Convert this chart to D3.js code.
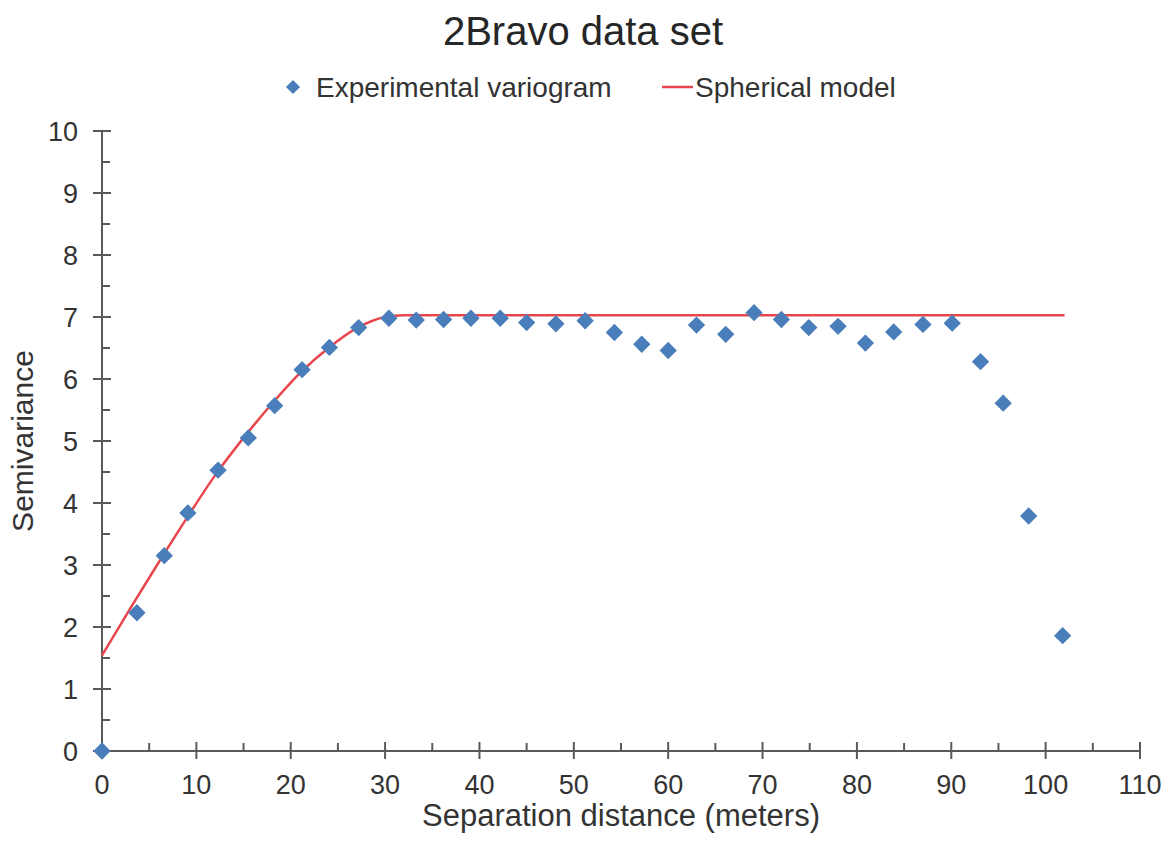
<!DOCTYPE html>
<html>
<head>
<meta charset="utf-8">
<script src="https://cdnjs.cloudflare.com/ajax/libs/d3/7.8.5/d3.min.js"></script>
<style>
    body { margin: 0; background: #fff; }
    text { font-family: "Liberation Sans", Arial, sans-serif; }
</style>
</head>
<body>
<svg id="chart" width="1172" height="842"></svg>
<script>
// experimental variogram (lag distance, semivariance)
var lagDistances = [0, 3.7, 6.6, 9.1, 12.3, 15.5, 18.3, 21.2, 24.1, 27.2, 30.4, 33.3, 36.2, 39.1,
    42.2, 45.0, 48.1, 51.2, 54.3, 57.2, 60.0, 63.0, 66.1, 69.1, 72.0, 74.9, 78.0, 80.9,
    83.9, 87.0, 90.1, 93.1, 95.5, 98.2, 101.8];
var semivariances = [0, 2.23, 3.15, 3.84, 4.53, 5.05, 5.57, 6.15, 6.51, 6.83, 6.98, 6.95, 6.96, 6.98,
    6.98, 6.91, 6.89, 6.94, 6.75, 6.56, 6.46, 6.87, 6.72, 7.07, 6.96, 6.83, 6.85, 6.58,
    6.76, 6.88, 6.90, 6.28, 5.61, 3.79, 1.86];

// spherical model
var modelDistances = [0, 3, 6, 9, 12, 15, 18, 21, 24, 27, 30, 32, 102];
var modelValues = [1.54, 2.3, 3.04, 3.76, 4.45, 5.05, 5.6, 6.1, 6.5, 6.82, 7.0, 7.03, 7.03];

var xTicks = [0, 10, 20, 30, 40, 50, 60, 70, 80, 90, 100, 110];
var xMinorTicks = [5, 15, 25, 35, 45, 55, 65, 75, 85, 95, 105];
var yTicks = [0, 1, 2, 3, 4, 5, 6, 7, 8, 9, 10];
var yMinorTicks = [0.5, 1.5, 2.5, 3.5, 4.5, 5.5, 6.5, 7.5, 8.5, 9.5];

var chartTitle = "2Bravo data set";
var seriesNames = ["Experimental variogram", "Spherical model"];
var xTitle = "Separation distance (meters)";
var yTitle = "Semivariance";

var pointColor = "#4a7ebb";
var lineColor = "#e8464c";
var axisColor = "#595959";
var textColor = "#333333";

var margin = {top: 131, right: 32, bottom: 91, left: 102};
var width = 1172 - margin.left - margin.right;
var height = 842 - margin.top - margin.bottom;

var svg = d3.select("#chart");
var g = svg.append("g").attr("transform", "translate(" + margin.left + "," + margin.top + ")");

var x = d3.scaleLinear().domain([0, 110]).range([0, width]);
var y = d3.scaleLinear().domain([0, 10]).range([height, 0]);

var diamond = d3.symbol().type(d3.symbolSquare).size(150);

//////// axes
var drawAxes = function() {
    // y axis
    g.append("line")
        .attr("x1", 0).attr("x2", 0)
        .attr("y1", y(0)).attr("y2", y(10))
        .attr("stroke", axisColor).attr("stroke-width", 2);

    g.selectAll(".y-major").data(yTicks).enter().append("line")
        .attr("x1", -9).attr("x2", 9)
        .attr("y1", function(d) { return y(d); })
        .attr("y2", function(d) { return y(d); })
        .attr("stroke", axisColor).attr("stroke-width", 2);

    g.selectAll(".y-minor").data(yMinorTicks).enter().append("line")
        .attr("x1", 0).attr("x2", 8)
        .attr("y1", function(d) { return y(d); })
        .attr("y2", function(d) { return y(d); })
        .attr("stroke", axisColor).attr("stroke-width", 2);

    g.selectAll(".y-label").data(yTicks).enter().append("text")
        .attr("x", -24)
        .attr("y", function(d) { return y(d); })
        .attr("dy", "0.36em")
        .attr("text-anchor", "end")
        .attr("font-size", 27)
        .attr("fill", textColor)
        .text(function(d) { return d; });

    // x axis
    g.append("line")
        .attr("x1", x(0)).attr("x2", x(110))
        .attr("y1", y(0)).attr("y2", y(0))
        .attr("stroke", axisColor).attr("stroke-width", 2);

    g.selectAll(".x-major").data(xTicks).enter().append("line")
        .attr("x1", function(d) { return x(d); })
        .attr("x2", function(d) { return x(d); })
        .attr("y1", height - 9).attr("y2", height + 8)
        .attr("stroke", axisColor).attr("stroke-width", 2);

    g.selectAll(".x-minor").data(xMinorTicks).enter().append("line")
        .attr("x1", function(d) { return x(d); })
        .attr("x2", function(d) { return x(d); })
        .attr("y1", height - 8).attr("y2", height)
        .attr("stroke", axisColor).attr("stroke-width", 2);

    g.selectAll(".x-label").data(xTicks).enter().append("text")
        .attr("x", function(d) { return x(d); })
        .attr("y", height + 43)
        .attr("text-anchor", "middle")
        .attr("font-size", 27)
        .attr("fill", textColor)
        .text(function(d) { return d; });

    // titles
    svg.append("text")
        .attr("x", margin.left + width / 2)
        .attr("y", 826)
        .attr("text-anchor", "middle")
        .attr("font-size", 31)
        .attr("fill", textColor)
        .text(xTitle);

    svg.append("text")
        .attr("transform", "translate(33," + (margin.top + height / 2) + ") rotate(-90)")
        .attr("text-anchor", "middle")
        .attr("font-size", 30)
        .attr("fill", textColor)
        .text(yTitle);
};

//////// series
var drawSeries = function() {
    var model = modelDistances.map(function(d, i) { return [d, modelValues[i]]; });
    var line = d3.line()
        .x(function(d) { return x(d[0]); })
        .y(function(d) { return y(d[1]); })
        .curve(d3.curveMonotoneX);

    g.append("path")
        .datum(model)
        .attr("d", line)
        .attr("fill", "none")
        .attr("stroke", lineColor)
        .attr("stroke-width", 2.5);

    var points = lagDistances.map(function(d, i) { return [d, semivariances[i]]; });
    g.selectAll(".point").data(points).enter().append("path")
        .attr("d", diamond)
        .attr("transform", function(d) {
            return "translate(" + x(d[0]) + "," + y(d[1]) + ") rotate(45)";
        })
        .attr("fill", pointColor);
};

//////// title + legend
var drawHeader = function() {
    svg.append("text")
        .attr("x", 583)
        .attr("y", 45)
        .attr("text-anchor", "middle")
        .attr("font-size", 40)
        .attr("fill", "#262626")
        .text(chartTitle);

    var legend = svg.append("g").attr("transform", "translate(0,87)");
    legend.append("path")
        .attr("d", d3.symbol().type(d3.symbolSquare).size(100))
        .attr("transform", "translate(293,0) rotate(45)")
        .attr("fill", pointColor);
    legend.append("text")
        .attr("x", 316).attr("y", 10)
        .attr("font-size", 28)
        .attr("fill", textColor)
        .text(seriesNames[0]);

    legend.append("line")
        .attr("x1", 662).attr("x2", 693)
        .attr("y1", 0).attr("y2", 0)
        .attr("stroke", lineColor)
        .attr("stroke-width", 2.5);
    legend.append("text")
        .attr("x", 695).attr("y", 10)
        .attr("font-size", 28)
        .attr("fill", textColor)
        .text(seriesNames[1]);
};

drawAxes();
drawSeries();
drawHeader();
</script>
</body>
</html>
